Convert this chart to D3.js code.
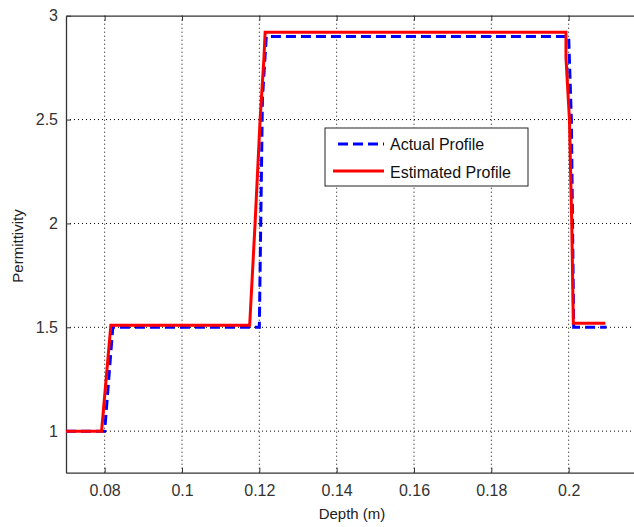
<!DOCTYPE html>
<html><head><meta charset="utf-8">
<script src="https://cdn.jsdelivr.net/npm/d3@7"></script>
<style>body{margin:0;background:#fff}svg{display:block}text{font-family:"Liberation Sans",Arial,sans-serif}</style>
</head><body>
<script>
const actualDepth = [0.07, 0.08, 0.0821, 0.12, 0.1208, 0.1218, 0.2, 0.2007, 0.2013, 0.2098];
const actualPerm  = [1, 1, 1.5, 1.5, 2.6, 2.9, 2.9, 2.5, 1.5, 1.5];
const estDepth = [0.07, 0.0792, 0.0816, 0.1175, 0.1189, 0.1202, 0.1212, 0.1215, 0.1993, 0.1993, 0.2002, 0.2008, 0.2012, 0.2095];
const estPerm  = [1, 1, 1.51, 1.51, 2.0, 2.5, 2.8, 2.92, 2.92, 2.8, 2.5, 2.0, 1.52, 1.52];
const xTicks = [0.08, 0.1, 0.12, 0.14, 0.16, 0.18, 0.2];
const xTickLabels = ["0.08", "0.1", "0.12", "0.14", "0.16", "0.18", "0.2"];
const yTicks = [1, 1.5, 2, 2.5, 3];
const yTickLabels = ["1", "1.5", "2", "2.5", "3"];
const seriesNames = ["Actual Profile", "Estimated Profile"];

const W = 634, H = 527;
const L = 66, T = 15.7, R = 646, B = 472.7;
const svg = d3.select("body").append("svg").attr("width", W).attr("height", H);
const x = d3.scaleLinear().domain([0.07, 0.22]).range([L, R]);
const y = d3.scaleLinear().domain([0.8, 3]).range([B, T]);

const g = svg.append("g");
// grid
g.selectAll(".gx").data(xTicks).enter().append("line")
  .attr("x1", d => x(d)).attr("x2", d => x(d)).attr("y1", T).attr("y2", B)
  .attr("stroke", "#000").attr("stroke-width", 1).attr("stroke-dasharray", "1,3");
g.selectAll(".gy").data(yTicks.filter(d => d < 3)).enter().append("line")
  .attr("y1", d => y(d)).attr("y2", d => y(d)).attr("x1", L).attr("x2", R)
  .attr("stroke", "#000").attr("stroke-width", 1).attr("stroke-dasharray", "1,3");

// axes (inward ticks)
const xb = d3.axisBottom(x).tickValues(xTicks).tickFormat((d, i) => xTickLabels[i]).tickSizeInner(-5).tickSizeOuter(0).tickPadding(12);
const xt = d3.axisTop(x).tickValues(xTicks).tickFormat("").tickSizeInner(-5).tickSizeOuter(0);
const yl = d3.axisLeft(y).tickValues(yTicks).tickFormat((d, i) => yTickLabels[i]).tickSizeInner(-5).tickSizeOuter(0).tickPadding(8);
const yr = d3.axisRight(y).tickValues(yTicks).tickFormat("").tickSizeInner(-5).tickSizeOuter(0);
function style(sel) {
  sel.select(".domain").attr("stroke", "#333").attr("stroke-width", 1.3);
  sel.selectAll(".tick line").attr("stroke", "#333");
  sel.selectAll(".tick text").attr("fill", "#333").style("font-size", "16px").style("font-family", "'Liberation Sans',Arial,sans-serif");
}
svg.append("g").attr("transform", `translate(0,${B})`).call(xb).call(style);
svg.append("g").attr("transform", `translate(0,${T})`).call(xt).call(style);
svg.append("g").attr("transform", `translate(${L},0)`).call(yl).call(style);
svg.append("g").attr("transform", `translate(${R},0)`).call(yr).call(style);

// lines
const line = d3.line().x(d => x(d[0])).y(d => y(d[1]));
const actual = actualDepth.map((d, i) => [d, actualPerm[i]]);
const est = estDepth.map((d, i) => [d, estPerm[i]]);
svg.append("path").datum(actual).attr("d", line).attr("fill", "none")
  .attr("stroke", "#0000ff").attr("stroke-width", 3).attr("stroke-dasharray", "10,5");
svg.append("path").datum(est).attr("d", line).attr("fill", "none")
  .attr("stroke", "#ff0000").attr("stroke-width", 3);

// labels
svg.append("text").attr("x", 352).attr("y", 519).attr("text-anchor", "middle")
  .style("font-size", "15px").attr("fill", "#222").text("Depth (m)");
svg.append("text").attr("transform", "translate(23,246) rotate(-90)").attr("text-anchor", "middle")
  .style("font-size", "15px").attr("fill", "#222").text("Permittivity");

// legend
const lg = svg.append("g");
lg.append("rect").attr("x", 325).attr("y", 128).attr("width", 203).attr("height", 58)
  .attr("fill", "#fff").attr("stroke", "#222").attr("stroke-width", 1);
lg.append("line").attr("x1", 338).attr("x2", 384).attr("y1", 144).attr("y2", 144)
  .attr("stroke", "#0000ff").attr("stroke-width", 3).attr("stroke-dasharray", "10,5");
lg.append("line").attr("x1", 333).attr("x2", 384).attr("y1", 171).attr("y2", 171)
  .attr("stroke", "#ff0000").attr("stroke-width", 3);
lg.append("text").attr("x", 390).attr("y", 150).style("font-size", "16px").attr("fill", "#111").text(seriesNames[0]);
lg.append("text").attr("x", 390).attr("y", 178).style("font-size", "16px").attr("fill", "#111").text(seriesNames[1]);
</script>
</body></html>
